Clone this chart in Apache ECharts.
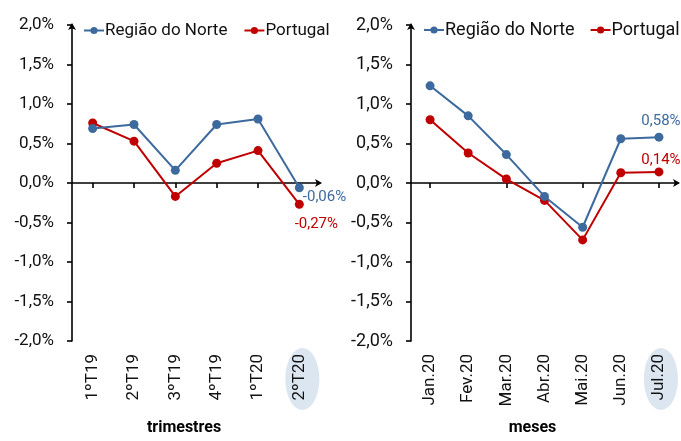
<!DOCTYPE html>
<html>
<head>
<meta charset="utf-8">
<script src="https://cdn.jsdelivr.net/npm/echarts@6/dist/echarts.min.js"></script>
<style>
  html, body { margin: 0; padding: 0; width: 681px; height: 441px; overflow: hidden; background: #fff; }
  #chart { position: absolute; left: 0; top: 0; width: 681px; height: 441px; }
</style>
</head>
<body>
<div id="chart"></div>
<script>
// Quarterly and monthly change: Região do Norte vs Portugal
const quarters = ['1ºT19', '2ºT19', '3ºT19', '4ºT19', '1ºT20', '2ºT20'];
const norteQuarterly = [0.69, 0.74, 0.16, 0.74, 0.81, -0.06];
const portugalQuarterly = [0.76, 0.53, -0.17, 0.25, 0.41, -0.27];

const months = ['Jan.20', 'Fev.20', 'Mar.20', 'Abr.20', 'Mai.20', 'Jun.20', 'Jul.20'];
const norteMonthly = [1.23, 0.85, 0.36, -0.17, -0.56, 0.56, 0.58];
const portugalMonthly = [0.80, 0.38, 0.05, -0.22, -0.72, 0.13, 0.14];

const FONT = "Roboto, 'Liberation Sans', sans-serif";
const BLUE = '#3D6A9E';
const RED = '#C00000';

const pct1 = v => v.toFixed(1).replace('.', ',') + '%';
const pct2 = v => v.toFixed(2).replace('.', ',') + '%';

const chart = echarts.init(document.getElementById('chart'), null, { renderer: 'canvas', width: 681, height: 441 });

function yAxisFor(gridIndex, fontSize) {
  return {
    type: 'value', gridIndex, min: -2, max: 2, interval: 0.5,
    splitLine: { show: false },
    axisLine: {
      show: true, onZero: false,
      symbol: ['none', 'arrow'], symbolSize: [6, 7], symbolOffset: [0, 2],
      lineStyle: { color: '#000', width: 1.6 }
    },
    axisTick: { show: true, length: 5, lineStyle: { color: '#000', width: 1.6 } },
    axisLabel: { margin: 18, fontFamily: FONT, fontSize, color: '#111', formatter: pct1 }
  };
}

function lineAxisFor(gridIndex, cats) {
  return {
    type: 'category', gridIndex, data: cats, boundaryGap: true,
    axisLine: {
      show: true, onZero: true,
      symbol: ['none', 'arrow'], symbolSize: [6, 7], symbolOffset: [0, 2],
      lineStyle: { color: '#000', width: 1.6 }
    },
    axisTick: { show: true, alignWithLabel: true, length: 5, lineStyle: { color: '#000', width: 1.6 } },
    axisLabel: { show: false }
  };
}

function labelAxisFor(gridIndex, cats, name, fontSize) {
  return {
    type: 'category', gridIndex, data: cats, boundaryGap: true, position: 'bottom',
    axisLine: { show: false, onZero: false },
    axisTick: { show: false },
    axisLabel: { rotate: 90, margin: 13, fontFamily: FONT, fontSize, color: '#111' },
    name, nameLocation: 'middle', nameGap: 79,
    nameTextStyle: { fontFamily: FONT, fontSize: 16, fontWeight: 'bold', color: '#000', padding: [0, 24, 0, 0] }
  };
}

function seriesFor(name, values, color, axisIdx, lastLabel) {
  const data = values.map((v, i) => {
    if (i !== values.length - 1) return v;
    return {
      value: v,
      label: Object.assign({
        show: true, color, fontFamily: FONT, fontSize: 15,
        formatter: p => pct2(p.value)
      }, lastLabel)
    };
  });
  return {
    name, type: 'line', xAxisIndex: axisIdx, yAxisIndex: axisIdx === 0 ? 0 : 1,
    data, symbol: 'circle', symbolSize: 9, color,
    lineStyle: { color, width: 2 }, itemStyle: { color },
    z: name === 'Portugal' ? 3 : 5
  };
}

const option = {
  animation: false,
  backgroundColor: '#fff',
  grid: [
    { left: 72, top: 25, width: 248, height: 324 },
    { left: 411, top: 25, width: 267, height: 324 }
  ],
  legend: [
    {
      left: 78, top: 17, width: 300, itemWidth: 20, itemHeight: 9, itemGap: 16,
      textStyle: { fontFamily: FONT, fontSize: 17, color: '#111', padding: [0, 0, 0, -4] },
      data: ['Região do Norte', 'Portugal']
    },
    {
      left: 418, top: 16, width: 300, itemWidth: 20, itemHeight: 9, itemGap: 15,
      textStyle: { fontFamily: FONT, fontSize: 18, color: '#111', padding: [0, 0, 0, -4] },
      data: ['Região do Norte', 'Portugal']
    }
  ],
  xAxis: [
    lineAxisFor(0, quarters),
    lineAxisFor(1, months),
    labelAxisFor(0, quarters, 'trimestres', 17),
    labelAxisFor(1, months, 'meses', 17)
  ],
  yAxis: [yAxisFor(0, 17), yAxisFor(1, 18)],
  series: [
    seriesFor('Região do Norte', norteQuarterly, BLUE, 0, { position: 'right', distance: 0, offset: [-1, 10] }),
    seriesFor('Portugal', portugalQuarterly, RED, 0, { position: 'bottom', distance: 8, offset: [17, 0] }),
    seriesFor('Região do Norte', norteMonthly, BLUE, 1, { position: 'top', distance: 4, offset: [2, 0] }),
    seriesFor('Portugal', portugalMonthly, RED, 1, { position: 'top', distance: 0, offset: [2, 0] })
  ]
};

chart.setOption(option);

// Soft highlight behind the most recent period label on each chart
function highlightFor(labelAxisIdx, cats, shiftX) {
  const x = chart.convertToPixel({ xAxisIndex: labelAxisIdx }, cats[cats.length - 1]);
  const yBottom = chart.convertToPixel({ yAxisIndex: labelAxisIdx - 2 }, -2);
  return {
    type: 'ellipse', z: -10, silent: true,
    shape: { cx: x + shiftX, cy: yBottom + 38, rx: 17, ry: 31 },
    style: { fill: '#DCE6F1' }
  };
}

chart.setOption({
  graphic: [
    highlightFor(2, quarters, 3),
    highlightFor(3, months, 2)
  ]
});
</script>
</body>
</html>
